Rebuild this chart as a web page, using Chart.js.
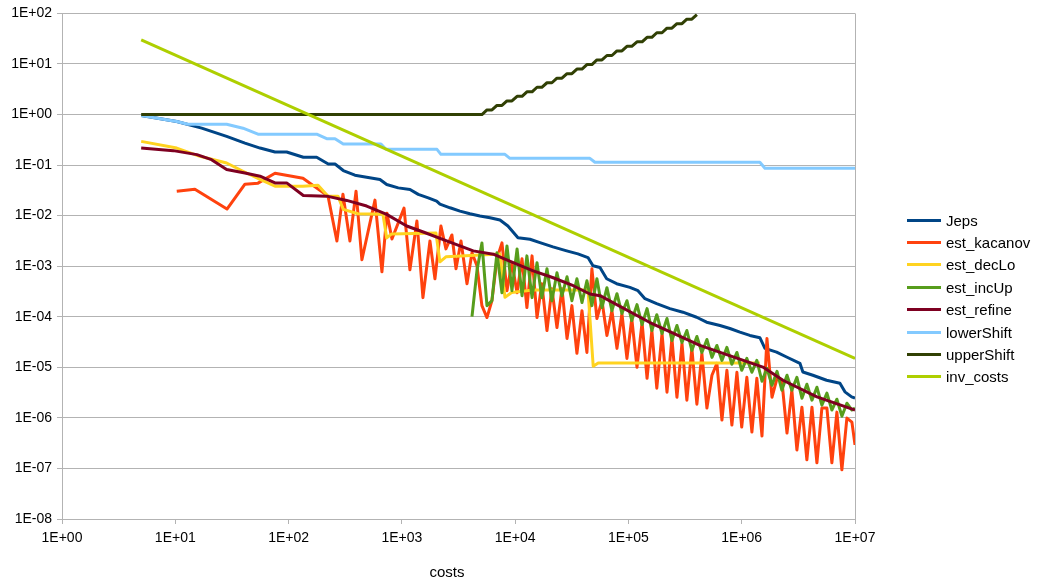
<!DOCTYPE html>
<html>
<head>
<meta charset="utf-8">
<script src="https://cdn.jsdelivr.net/npm/chart.js@4.4.0/dist/chart.umd.min.js"></script>
<style>
  html, body { margin: 0; padding: 0; background: #fff; overflow: hidden; }
  #wrap { position: relative; width: 1042px; height: 586px; }
  #legend { position: absolute; left: 907px; top: 209px; font: 15px "Liberation Sans", Arial, sans-serif; color: #000; }
  .row { height: 22.4px; display: flex; align-items: center; white-space: nowrap; }
  .swatch { width: 34px; height: 3px; margin-right: 5px; }
  #xtitle { position: absolute; left: 347px; width: 200px; top: 563px; text-align: center; font: 15px "Liberation Sans", Arial, sans-serif; color: #000; }
</style>
</head>
<body>
<div id="wrap">
  <canvas id="chart" width="1042" height="586"></canvas>
  <div id="legend"></div>
  <div id="xtitle">costs</div>
</div>
<script>
// axis ticks (powers of ten only, labelled the spreadsheet way)
const xTickValues = [1, 10, 100, 1e3, 1e4, 1e5, 1e6, 1e7];
const xTickLabels = ['1E+00', '1E+01', '1E+02', '1E+03', '1E+04', '1E+05', '1E+06', '1E+07'];
const yTickValues = [1e-8, 1e-7, 1e-6, 1e-5, 1e-4, 1e-3, 1e-2, 1e-1, 1, 10, 100];
const yTickLabels = ['1E-08', '1E-07', '1E-06', '1E-05', '1E-04', '1E-03', '1E-02', '1E-01', '1E+00', '1E+01', '1E+02'];

const seriesNames = ['Jeps', 'est_kacanov', 'est_decLo', 'est_incUp', 'est_refine', 'lowerShift', 'upperShift', 'inv_costs'];
const seriesColors = ['#004586', '#ff420e', '#ffd320', '#579d1c', '#7e0021', '#83caff', '#314004', '#aecf00'];

// costs of the kacanov iterations before est_incUp kicks in
const earlyCosts = [10.3, 14.9, 28.6, 41.2, 53.7, 75.9, 134, 223, 267, 302,
  348, 394, 444, 579, 667, 738, 818, 1045, 1178, 1358,
  1535, 1770, 1959, 2213, 2449, 2767, 3006, 3327, 3758];
// costs from there on (shared by est_kacanov, est_incUp, upperShift)
const gridCosts = [4160, 4600, 5090, 5640, 6240, 6910, 7650, 8470, 9370, 10400,
  11500, 12700, 14100, 15600, 17200, 19100, 21100, 23400, 25900, 28700,
  31700, 35100, 38900, 43000, 47600, 52700, 58400, 64600, 71500, 79200,
  87600, 97000, 107000, 119000, 132000, 146000, 161000, 178000, 198000, 219000,
  242000, 268000, 297000, 328000, 363000, 402000, 445000, 493000, 546000, 604000,
  669000, 740000, 819000, 907000, 1.0e6, 1.11e6, 1.23e6, 1.36e6, 1.51e6, 1.67e6,
  1.85e6, 2.05e6, 2.26e6, 2.51e6, 2.77e6, 3.07e6, 3.40e6, 3.76e6, 4.17e6, 4.61e6,
  5.10e6, 5.65e6, 6.25e6, 6.92e6, 7.66e6, 8.48e6, 9.39e6, 1.0e7];

const estKacanov = [3.05e-2, 3.34e-2, 1.35e-2, 4.19e-2, 4.39e-2, 6.9e-2, 5.5e-2, 2.43e-2, 3.16e-3, 2.66e-2,
  3.16e-3, 3.05e-2, 1.34e-3, 2.03e-2, 7.76e-4, 1.12e-2, 3.46e-3, 1.41e-2, 8.49e-4, 7.83e-3,
  2.39e-4, 3.16e-3, 5.65e-4, 6.24e-3, 2.2e-3, 4.15e-3, 8.89e-4, 3.16e-3, 4.51e-4,
  1.84e-3, 1.02e-3, 1.66e-4, 9.64e-5, 2.08e-4, 1.40e-3, 2.89e-3, 3.28e-4, 1.17e-3, 2.99e-4,
  1.40e-3, 1.52e-4, 1.60e-3, 9.64e-5, 4.51e-4, 5.35e-5, 3.59e-4, 6.12e-5, 3.59e-4, 3.72e-5,
  1.66e-4, 1.89e-5, 1.32e-4, 1.97e-5, 8.89e-4, 9.23e-5, 2.08e-4, 4.27e-5, 1.32e-4, 2.37e-5,
  1.16e-4, 1.50e-5, 9.23e-5, 1.0e-5, 7.69e-5, 6.07e-6, 5.35e-5, 3.86e-6, 4.67e-5, 3.22e-6,
  3.72e-5, 2.56e-6, 2.96e-5, 2.24e-6, 2.37e-5, 1.87e-6, 1.89e-5, 1.56e-6, 6.97e-6, 1.20e-5,
  9.06e-7, 8.73e-6, 7.21e-7, 7.98e-6, 6.59e-7, 6.35e-6, 5.25e-7, 6.07e-6, 4.38e-7, 3.72e-5,
  2.56e-6, 6.07e-6, 5.55e-6, 5.02e-7, 3.52e-6, 2.32e-7, 1.63e-6, 1.48e-7, 1.63e-6, 1.29e-7,
  1.56e-6, 1.56e-6, 1.29e-7, 1.30e-6, 9.38e-8, 9.91e-7, 8.26e-7, 2.92e-7];

const estIncUp = [1.01e-4, 8.11e-4, 2.89e-3, 1.66e-4, 2.08e-4, 1.84e-3, 2.99e-4, 2.52e-3, 3.28e-4, 2.20e-3,
  2.61e-4, 1.60e-3, 2.39e-4, 1.17e-3, 2.39e-4, 8.89e-4, 2.08e-4, 7.41e-4, 2.61e-4, 6.18e-4,
  2.08e-4, 5.65e-4, 1.91e-4, 5.16e-4, 1.66e-4, 5.65e-4, 1.52e-4, 3.76e-4, 1.32e-4, 2.86e-4,
  1.16e-4, 2.08e-4, 8.41e-5, 1.74e-4, 7.02e-5, 1.45e-4, 5.35e-5, 1.10e-4, 4.67e-5, 9.23e-5,
  3.40e-5, 6.71e-5, 3.10e-5, 5.35e-5, 2.16e-5, 4.07e-5, 1.97e-5, 3.56e-5, 1.57e-5, 2.71e-5,
  1.37e-5, 2.48e-5, 1.15e-5, 1.97e-5, 8.73e-6, 1.50e-5, 7.98e-6, 1.37e-5, 5.30e-6, 9.55e-6,
  4.43e-6, 8.34e-6, 3.52e-6, 6.97e-6, 3.52e-6, 6.35e-6, 2.45e-6, 4.62e-6, 2.24e-6, 4.04e-6,
  1.79e-6, 3.08e-6, 1.43e-6, 2.34e-6, 1.08e-6, 1.95e-6, 1.43e-6, 1.56e-6];

const jepsCosts = [5, 10.3, 17.1, 28.4, 41.2, 56.0, 75.9, 96.2, 135, 177,
  224, 257, 304, 385, 489, 641, 735, 929, 1180, 1396,
  1710, 2028, 2168, 2661, 3258, 3991, 4889, 5998, 7345, 8634,
  10590, 13520, 16560, 21570, 28510, 35830, 43950, 48640, 56100, 64270,
  78700, 103000, 121400, 140000, 177500, 232300, 302700, 399900, 489800, 642700,
  787000, 964000, 1.18e6, 1.446e6, 1.603e6, 2.032e6, 2.489e6, 3.265e6, 3.467e6, 4.246e6,
  5.61e6, 7.362e6, 8.147e6, 9.333e6, 1e7];
const jeps = [0.956, 0.728, 0.537, 0.369, 0.272, 0.217, 0.181, 0.181, 0.1425, 0.1425,
  0.105, 0.105, 7.80e-2, 6.30e-2, 5.75e-2, 5.19e-2, 4.13e-2, 3.54e-2, 3.30e-2, 2.63e-2,
  2.25e-2, 1.94e-2, 1.69e-2, 1.43e-2, 1.23e-2, 1.09e-2, 9.82e-3, 9.10e-3, 8.19e-3, 6.24e-3,
  3.67e-3, 3.41e-3, 2.93e-3, 2.41e-3, 2.01e-3, 1.75e-3, 1.48e-3, 1.02e-3, 9.42e-4, 5.65e-4,
  4.51e-4, 3.81e-4, 3.28e-4, 2.28e-4, 1.82e-4, 1.45e-4, 1.23e-4, 9.78e-5, 7.80e-5, 6.71e-5,
  5.86e-5, 4.96e-5, 4.27e-5, 3.85e-5, 2.37e-5, 2.00e-5, 1.60e-5, 1.20e-5, 8.07e-6, 6.97e-6,
  5.55e-6, 4.84e-6, 3.27e-6, 2.60e-6, 2.45e-6];

const decLoCosts = [5, 10.3, 16.5, 28.4, 39.6, 56.0, 75.9, 134, 182, 223,
  273, 304, 410, 681, 735, 813, 2000, 2168, 2449, 7345,
  8128, 9311, 14350, 43950, 48870, 54120, 1.446e6];
const estDecLo = [0.294, 0.217, 0.149, 0.110, 7.55e-2, 5.19e-2, 3.83e-2, 3.83e-2, 4.0e-2, 2.43e-2,
  2.43e-2, 1.33e-2, 1.09e-2, 1.07e-2, 3.62e-3, 4.35e-3, 4.54e-3, 1.22e-3, 1.53e-3, 1.75e-3,
  2.42e-4, 3.03e-4, 3.39e-4, 3.39e-4, 1.05e-5, 1.22e-5, 1.22e-5];

const refineCosts = [5, 9.6, 15.5, 20.9, 28.4, 41.2, 56.0, 75.9, 96.2, 135,
  217, 326, 489, 735, 1103, 1545, 2485, 4266, 6412, 9616,
  14450, 21680, 32580, 45710, 56100, 154900, 427600, 1.538e6, 2.311e6, 4.613e6, 1e7];
const estRefine = [0.217, 0.193, 0.161, 0.128, 8.15e-2, 6.99e-2, 6.02e-2, 4.44e-2, 4.44e-2, 2.51e-2,
  2.43e-2, 2.00e-2, 1.55e-2, 1.06e-2, 6.24e-3, 4.75e-3, 3.16e-3, 2.01e-3, 1.73e-3, 1.18e-3,
  8.11e-4, 5.91e-4, 4.11e-4, 2.82e-4, 2.61e-4, 7.69e-5, 2.71e-5, 1.01e-5, 5.55e-6, 2.60e-6, 1.43e-6];

const lowerCosts = [5, 10.3, 12.9, 28.4, 39.6, 53.7, 177, 217, 257, 304,
  654, 724, 2042, 2213, 8128, 8995, 45710, 50600, 1.446e6, 1.603e6, 1e7];
const lowerShift = [0.956, 0.728, 0.644, 0.644, 0.537, 0.409, 0.409, 0.332, 0.332, 0.260,
  0.260, 0.205, 0.205, 0.163, 0.163, 0.136, 0.136, 0.1135, 0.1135, 8.65e-2, 8.65e-2];

// upperShift: flat at 1 until ~5e3, then a staircase on the shared grid
const upperCosts = [5].concat(gridCosts.slice(2, 46));
const upperShift = [1, 1, 1.23, 1.23, 1.51, 1.51, 1.86, 1.86, 2.29, 2.29,
  2.81, 2.81, 3.46, 3.46, 4.25, 4.25, 5.23, 5.23, 6.43, 6.43,
  7.91, 7.91, 9.73, 9.73, 12.0, 12.0, 14.7, 14.7, 18.1, 18.1,
  22.3, 22.3, 27.4, 27.4, 33.7, 33.7, 41.4, 41.4, 50.9, 50.9,
  62.6, 62.6, 77.0, 77.0, 94.7];

const invCostsX = [5, 1e7];
const invCosts = [30, 1.5e-5];

const pts = (xs, ys) => xs.map((x, i) => ({ x, y: ys[i] }));

const seriesData = [
  pts(jepsCosts, jeps),
  pts(earlyCosts.concat(gridCosts), estKacanov),
  pts(decLoCosts, estDecLo),
  pts(gridCosts, estIncUp),
  pts(refineCosts, estRefine),
  pts(lowerCosts, lowerShift),
  pts(upperCosts, upperShift),
  pts(invCostsX, invCosts),
];

const FONT = '"Liberation Sans", Arial, sans-serif';
const GRID = '#b3b3b3';

new Chart(document.getElementById('chart'), {
  type: 'line',
  data: {
    datasets: seriesNames.map((name, i) => ({
      label: name,
      data: seriesData[i],
      borderColor: seriesColors[i],
      backgroundColor: seriesColors[i],
      borderWidth: 3,
      pointRadius: 0,
      tension: 0,
      fill: false,
      borderJoinStyle: 'round',
      order: seriesNames.length - i, // later series drawn on top
    })),
  },
  options: {
    responsive: false,
    animation: false,
    events: [],
    layout: { padding: { left: 0, top: 11, right: 187, bottom: 0 } },
    plugins: { legend: { display: false }, tooltip: { enabled: false } },
    scales: {
      x: {
        type: 'logarithmic',
        min: 1,
        max: 1e7,
        afterBuildTicks: (s) => { s.ticks = xTickValues.map(v => ({ value: v })); },
        afterFit: (s) => { s.height = 67; },
        ticks: {
          callback: (v, i) => xTickLabels[i],
          autoSkip: false,
          maxRotation: 0,
          padding: 6,
          color: '#000',
          font: { family: FONT, size: 14 },
        },
        grid: {
          drawOnChartArea: true,
          color: (ctx) => (ctx.tick && ctx.tick.value === 1e7) ? GRID : 'rgba(0,0,0,0)',
          tickColor: GRID,
          tickLength: 5,
        },
        border: { color: GRID },
      },
      y: {
        type: 'logarithmic',
        min: 1e-8,
        max: 100,
        afterBuildTicks: (s) => { s.ticks = yTickValues.map(v => ({ value: v })); },
        afterFit: (s) => { s.width = 62; },
        ticks: {
          callback: (v, i) => yTickLabels[i],
          autoSkip: false,
          padding: 5,
          color: '#000',
          font: { family: FONT, size: 14 },
        },
        grid: { color: GRID, tickColor: GRID, tickLength: 5 },
        border: { color: GRID },
      },
    },
  },
});

// legend on the right, same look as the spreadsheet's
const legendEl = document.getElementById('legend');
seriesNames.forEach((name, i) => {
  const row = document.createElement('div');
  row.className = 'row';
  const sw = document.createElement('span');
  sw.className = 'swatch';
  sw.style.background = seriesColors[i];
  const label = document.createElement('span');
  label.textContent = name;
  row.appendChild(sw);
  row.appendChild(label);
  legendEl.appendChild(row);
});
</script>
</body>
</html>
